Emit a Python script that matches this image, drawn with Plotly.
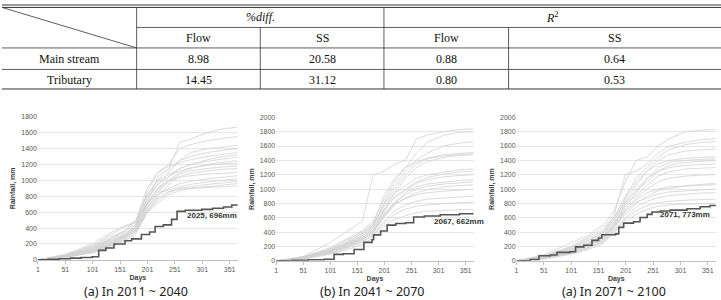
import plotly.graph_objects as go

W, H = 721, 300

# ---------------- table data ----------------
row_labels = ["Main stream", "Tributary"]
group_labels = ["<i>%diff.</i>", "<i>R</i><sup>2</sup>"]
sub_labels = ["Flow", "SS", "Flow", "SS"]
table_values = [["8.98", "20.58", "0.88", "0.64"],
                ["14.45", "31.12", "0.80", "0.53"]]

# ---------------- chart data ----------------
grid_days = [1, 50, 100, 130, 160, 180, 200, 220, 240, 260, 280, 310, 340, 365]

gray_a = [
    [0, 60, 180, 300, 420, 470, 800, 1000, 1150, 1480, 1520, 1600, 1650, 1670],
    [0, 50, 150, 250, 380, 500, 900, 1100, 1200, 1400, 1450, 1500, 1530, 1550],
    [0, 40, 120, 200, 300, 420, 750, 950, 1100, 1250, 1350, 1400, 1420, 1440],
    [0, 70, 200, 330, 430, 480, 700, 1050, 1150, 1250, 1300, 1350, 1380, 1400],
    [0, 45, 130, 220, 320, 450, 850, 1100, 1180, 1220, 1260, 1300, 1330, 1350],
    [0, 55, 160, 260, 350, 500, 820, 1000, 1080, 1150, 1200, 1260, 1300, 1320],
    [0, 35, 100, 180, 280, 400, 700, 900, 1050, 1150, 1200, 1240, 1270, 1290],
    [0, 50, 140, 230, 300, 380, 650, 850, 1000, 1100, 1150, 1200, 1230, 1250],
    [0, 40, 110, 190, 290, 420, 780, 950, 1050, 1120, 1160, 1190, 1210, 1220],
    [0, 60, 170, 280, 360, 450, 720, 880, 980, 1080, 1120, 1150, 1170, 1180],
    [0, 30, 90, 160, 250, 350, 600, 800, 950, 1050, 1090, 1120, 1140, 1150],
    [0, 45, 130, 210, 310, 400, 680, 900, 1000, 1040, 1060, 1080, 1090, 1100],
    [0, 35, 100, 170, 260, 380, 650, 820, 900, 960, 990, 1020, 1040, 1060],
    [0, 50, 150, 240, 330, 420, 700, 850, 880, 920, 950, 980, 1000, 1020],
    [0, 40, 120, 200, 300, 360, 600, 750, 850, 900, 920, 950, 970, 990],
    [0, 30, 90, 150, 240, 330, 580, 720, 820, 870, 900, 920, 940, 960],
    [0, 45, 110, 180, 270, 380, 620, 780, 860, 890, 900, 910, 920, 930],
]
gray_b = [
    [0, 60, 250, 400, 550, 1200, 1250, 1350, 1400, 1700, 1750, 1800, 1830, 1840],
    [0, 50, 180, 300, 420, 550, 850, 1100, 1300, 1500, 1650, 1750, 1790, 1800],
    [0, 40, 150, 250, 380, 500, 800, 1050, 1250, 1400, 1500, 1600, 1640, 1660],
    [0, 55, 170, 280, 400, 520, 900, 1150, 1300, 1380, 1430, 1480, 1500, 1510],
    [0, 45, 140, 230, 350, 480, 780, 1000, 1200, 1350, 1420, 1460, 1480, 1490],
    [0, 35, 120, 200, 320, 450, 700, 950, 1150, 1300, 1380, 1440, 1470, 1480],
    [0, 50, 160, 260, 380, 500, 750, 950, 1050, 1150, 1200, 1240, 1270, 1280],
    [0, 40, 130, 220, 330, 430, 680, 900, 1000, 1100, 1160, 1210, 1240, 1250],
    [0, 45, 150, 240, 350, 460, 720, 880, 980, 1080, 1130, 1170, 1190, 1200],
    [0, 30, 110, 190, 290, 400, 620, 800, 950, 1030, 1070, 1100, 1120, 1130],
    [0, 50, 140, 230, 320, 420, 650, 820, 920, 1000, 1040, 1070, 1090, 1100],
    [0, 35, 120, 200, 300, 380, 600, 780, 880, 950, 990, 1030, 1050, 1060],
    [0, 40, 130, 210, 300, 400, 640, 800, 870, 920, 950, 970, 990, 1000],
    [0, 30, 100, 170, 260, 350, 550, 700, 780, 830, 860, 880, 890, 900],
    [0, 35, 110, 180, 270, 360, 520, 650, 720, 760, 780, 800, 810, 820],
    [0, 25, 90, 150, 230, 320, 480, 580, 630, 670, 690, 700, 710, 720],
]
gray_c = [
    [0, 80, 250, 350, 500, 700, 1100, 1400, 1450, 1600, 1700, 1800, 1820, 1830],
    [0, 70, 200, 320, 450, 650, 1200, 1250, 1350, 1500, 1600, 1650, 1690, 1700],
    [0, 60, 180, 280, 400, 600, 900, 1150, 1300, 1450, 1550, 1620, 1650, 1660],
    [0, 50, 160, 250, 370, 550, 850, 1050, 1250, 1400, 1480, 1530, 1550, 1560],
    [0, 65, 190, 300, 420, 620, 880, 1100, 1250, 1350, 1400, 1430, 1440, 1450],
    [0, 45, 150, 240, 350, 520, 800, 1000, 1150, 1300, 1370, 1400, 1415, 1420],
    [0, 55, 170, 270, 380, 580, 820, 980, 1100, 1250, 1330, 1370, 1390, 1400],
    [0, 40, 140, 220, 330, 500, 750, 950, 1150, 1250, 1300, 1330, 1345, 1350],
    [0, 50, 150, 230, 340, 520, 780, 920, 1050, 1180, 1240, 1280, 1295, 1300],
    [0, 35, 120, 200, 300, 480, 700, 880, 1000, 1100, 1150, 1180, 1195, 1200],
    [0, 45, 140, 220, 320, 500, 720, 850, 950, 1000, 1030, 1050, 1070, 1080],
    [0, 30, 110, 180, 280, 450, 650, 800, 900, 980, 1010, 1040, 1055, 1060],
    [0, 40, 130, 210, 300, 470, 680, 820, 880, 930, 960, 980, 990, 1000],
    [0, 30, 100, 170, 260, 420, 600, 750, 830, 880, 910, 930, 945, 950],
    [0, 35, 110, 180, 270, 430, 580, 700, 770, 810, 830, 845, 855, 860],
    [0, 25, 90, 150, 240, 400, 550, 650, 720, 760, 780, 790, 797, 800],
]

dark_a_days = [1, 20, 40, 60, 80, 100, 112, 125, 140, 160, 172, 190, 205, 215, 230, 245, 255, 270, 300, 320, 340, 355, 365]
dark_a_vals = [0, 8, 15, 22, 30, 40, 120, 150, 200, 240, 265, 320, 350, 420, 440, 510, 610, 625, 635, 650, 665, 690, 696]
dark_b_days = [1, 30, 60, 90, 108, 125, 145, 163, 178, 181, 194, 206, 222, 240, 255, 275, 304, 340, 365]
dark_b_vals = [0, 8, 15, 22, 90, 100, 158, 258, 294, 362, 416, 498, 520, 530, 611, 625, 643, 656, 662]
dark_c_days = [1, 26, 42, 63, 75, 99, 109, 124, 139, 151, 157, 182, 188, 197, 215, 227, 240, 249, 264, 282, 313, 337, 355, 365]
dark_c_vals = [0, 18, 72, 82, 118, 127, 195, 218, 286, 318, 363, 376, 467, 526, 544, 603, 648, 680, 694, 707, 726, 753, 771, 773]

highlight_years = [2025, 2067, 2071]
label_pos = [(319, 556), (338, 544), (309, 639)]
captions = ["(a) In 2011 ~ 2040", "(b) In 2041 ~ 2070", "(a) In 2071 ~ 2100"]
y_max = [1800, 2000, 2000]
x_ticks = [1, 51, 101, 151, 201, 251, 301, 351]

# ---------------- layout geometry (pixels) ----------------
panels = [
    dict(x0=36, x1=236.5, y0=115.5, y1=262),
    dict(x0=275, x1=473, y0=116, y1=263),
    dict(x0=516, x1=716, y0=116, y1=263),
]

def px(x):
    return x / W

def py(y):
    return 1 - y / H

fig = go.Figure()

grays = [gray_a, gray_b, gray_c]
darks = [(dark_a_days, dark_a_vals), (dark_b_days, dark_b_vals), (dark_c_days, dark_c_vals)]

layout_axes = {}
annotations = []
for i in range(3):
    xa = "x" if i == 0 else f"x{i+1}"
    ya = "y" if i == 0 else f"y{i+1}"
    for series in grays[i]:
        fig.add_trace(go.Scatter(x=grid_days, y=series, mode="lines",
                                 line=dict(color="#d2d2d2", width=0.8),
                                 xaxis=xa, yaxis=ya, showlegend=False, hoverinfo="skip"))
    dd, dv = darks[i]
    fig.add_trace(go.Scatter(x=dd, y=dv, mode="lines", line_shape="hv",
                             line=dict(color="#555555", width=1.6),
                             xaxis=xa, yaxis=ya, showlegend=False))
    p = panels[i]
    xkey = "xaxis" if i == 0 else f"xaxis{i+1}"
    ykey = "yaxis" if i == 0 else f"yaxis{i+1}"
    layout_axes[xkey] = dict(
        domain=[px(p["x0"]), px(p["x1"])], range=[1, 366], anchor=ya,
        tickvals=x_ticks, ticks="outside", ticklen=3, tickcolor="#bfbfbf",
        showgrid=False, zeroline=False, showline=True, linecolor="#bfbfbf", linewidth=1,
        tickfont=dict(family="Liberation Sans", size=7, color="#595959"),
        title=dict(text="<b>Days</b>", font=dict(family="Liberation Sans", size=7, color="#404040"),
                   standoff=2),
    )
    layout_axes[ykey] = dict(
        domain=[py(p["y1"]), py(p["y0"])], range=[0, y_max[i]], anchor=xa,
        dtick=200, showgrid=True, gridcolor="#e6e6e6", gridwidth=1,
        zeroline=False, showline=False, ticks="",
        tickfont=dict(family="Liberation Sans", size=7, color="#595959"),
        title=dict(text="<b>Rainfall, mm</b>", font=dict(family="Liberation Sans", size=7, color="#404040"),
                   standoff=4),
    )
    lx, ly = label_pos[i]
    annotations.append(dict(x=lx, y=ly, xref=xa, yref=ya, showarrow=False,
                            xanchor="center", yanchor="middle",
                            text=f"<b>{highlight_years[i]}, {dv[-1]}mm</b>",
                            font=dict(family="Liberation Sans", size=8, color="#333333")))
    cx = (p["x0"] + p["x1"]) / 2 - 2
    annotations.append(dict(x=px(cx), y=py(294), xref="paper", yref="paper", showarrow=False,
                            text=captions[i], xanchor="center", yanchor="middle",
                            font=dict(family="Noto Sans", size=12.5, color="#222222")))

# ---------------- table ----------------
shapes = []
def hline(y, x0, x1, w=1):
    shapes.append(dict(type="line", xref="paper", yref="paper", x0=px(x0), x1=px(x1),
                       y0=py(y), y1=py(y), line=dict(color="#333333", width=w)))
def vline(x, y0, y1, w=1):
    shapes.append(dict(type="line", xref="paper", yref="paper", x0=px(x), x1=px(x),
                       y0=py(y0), y1=py(y1), line=dict(color="#333333", width=w)))

hline(1, 0, W)
hline(3.5, 0, W)
hline(24, 135, W, 0.8)
hline(45, 0, W, 0.8)
hline(67, 0, W, 0.8)
hline(87, 0, W, 1)
vline(135, 3.5, 87, 0.8)
vline(383, 3.5, 87, 0.8)
vline(259, 24, 87, 0.8)
vline(508, 24, 87, 0.8)
shapes.append(dict(type="line", xref="paper", yref="paper", x0=px(0), y0=py(3.5),
                   x1=px(135), y1=py(45), line=dict(color="#333333", width=0.8)))

col_edges = [135, 259, 383, 508, 721]
group_edges = [(135, 383), (383, 721)]
row_centers = [56, 77.5]
tfont = dict(family="Liberation Serif", size=12, color="#111111")

def cell(x, y, text):
    annotations.append(dict(x=px(x), y=py(y), xref="paper", yref="paper",
                            xanchor="center", yanchor="middle",
                            showarrow=False, text=text, font=tfont))

for g, (a, b) in zip(group_labels, group_edges):
    cell((a + b) / 2, 13.5, g)
for j, s in enumerate(sub_labels):
    cell((col_edges[j] + col_edges[j + 1]) / 2, 35, s)
for r, lab in enumerate(row_labels):
    cell(67.5, row_centers[r], lab)
    for j, v in enumerate(table_values[r]):
        cell((col_edges[j] + col_edges[j + 1]) / 2, row_centers[r], v)

fig.update_layout(width=W, height=H, margin=dict(l=0, r=0, t=0, b=0),
                  paper_bgcolor="white", plot_bgcolor="white",
                  shapes=shapes, annotations=annotations, **layout_axes)

fig.write_html("out.html")
